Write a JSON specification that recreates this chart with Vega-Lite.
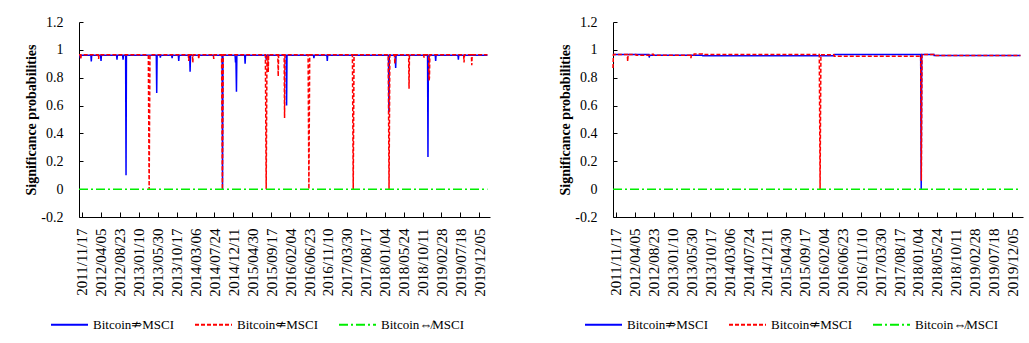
{
  "$schema": "https://vega.github.io/schema/vega-lite/v6.json",
  "background": "white",
  "padding": {"left": 24, "top": 15, "right": 5, "bottom": 0},
  "spacing": 67,
  "config": {
    "font": "'Liberation Serif', 'Times New Roman', 'DejaVu Serif', serif",
    "view": {"stroke": null},
    "axis": {"grid": false, "domainColor": "black", "tickColor": "black", "labelColor": "black", "titleColor": "black", "labelFont": "'Liberation Serif', 'Times New Roman', serif", "titleFont": "'Liberation Serif', 'Times New Roman', serif", "labelFontSize": 14},
    "legend": {"labelFont": "'Liberation Serif', 'DejaVu Serif', 'DejaVu Sans', serif", "labelFontSize": 13, "labelColor": "black"}
  },
  "resolve": {"scale": {"color": "independent", "strokeDash": "independent"}},
  "datasets": {
    "left": [
      {"s": "Bitcoin⇏MSCI", "d": "2011-10-26", "p": 0.962},
      {"s": "Bitcoin⇏MSCI", "d": "2011-11-02", "p": 0.962},
      {"s": "Bitcoin⇏MSCI", "d": "2011-11-05", "p": 0.94},
      {"s": "Bitcoin⇏MSCI", "d": "2011-11-08", "p": 0.962},
      {"s": "Bitcoin⇏MSCI", "d": "2012-01-22", "p": 0.962},
      {"s": "Bitcoin⇏MSCI", "d": "2012-01-25", "p": 0.917},
      {"s": "Bitcoin⇏MSCI", "d": "2012-01-28", "p": 0.962},
      {"s": "Bitcoin⇏MSCI", "d": "2012-04-03", "p": 0.962},
      {"s": "Bitcoin⇏MSCI", "d": "2012-04-06", "p": 0.92},
      {"s": "Bitcoin⇏MSCI", "d": "2012-04-09", "p": 0.962},
      {"s": "Bitcoin⇏MSCI", "d": "2012-07-30", "p": 0.962},
      {"s": "Bitcoin⇏MSCI", "d": "2012-08-02", "p": 0.93},
      {"s": "Bitcoin⇏MSCI", "d": "2012-08-05", "p": 0.962},
      {"s": "Bitcoin⇏MSCI", "d": "2012-09-13", "p": 0.962},
      {"s": "Bitcoin⇏MSCI", "d": "2012-09-16", "p": 0.93},
      {"s": "Bitcoin⇏MSCI", "d": "2012-09-19", "p": 0.962},
      {"s": "Bitcoin⇏MSCI", "d": "2012-10-05", "p": 0.962},
      {"s": "Bitcoin⇏MSCI", "d": "2012-10-08", "p": 0.10},
      {"s": "Bitcoin⇏MSCI", "d": "2012-10-11", "p": 0.962},
      {"s": "Bitcoin⇏MSCI", "d": "2013-05-20", "p": 0.962},
      {"s": "Bitcoin⇏MSCI", "d": "2013-05-23", "p": 0.69},
      {"s": "Bitcoin⇏MSCI", "d": "2013-05-26", "p": 0.962},
      {"s": "Bitcoin⇏MSCI", "d": "2013-06-16", "p": 0.962},
      {"s": "Bitcoin⇏MSCI", "d": "2013-06-19", "p": 0.945},
      {"s": "Bitcoin⇏MSCI", "d": "2013-06-22", "p": 0.962},
      {"s": "Bitcoin⇏MSCI", "d": "2013-09-11", "p": 0.962},
      {"s": "Bitcoin⇏MSCI", "d": "2013-09-14", "p": 0.94},
      {"s": "Bitcoin⇏MSCI", "d": "2013-09-17", "p": 0.962},
      {"s": "Bitcoin⇏MSCI", "d": "2013-10-30", "p": 0.962},
      {"s": "Bitcoin⇏MSCI", "d": "2013-11-02", "p": 0.92},
      {"s": "Bitcoin⇏MSCI", "d": "2013-11-05", "p": 0.962},
      {"s": "Bitcoin⇏MSCI", "d": "2014-01-22", "p": 0.962},
      {"s": "Bitcoin⇏MSCI", "d": "2014-01-25", "p": 0.843},
      {"s": "Bitcoin⇏MSCI", "d": "2014-01-28", "p": 0.962},
      {"s": "Bitcoin⇏MSCI", "d": "2014-09-19", "p": 0.962},
      {"s": "Bitcoin⇏MSCI", "d": "2014-09-22", "p": 0.0},
      {"s": "Bitcoin⇏MSCI", "d": "2014-09-25", "p": 0.962},
      {"s": "Bitcoin⇏MSCI", "d": "2014-12-24", "p": 0.962},
      {"s": "Bitcoin⇏MSCI", "d": "2014-12-27", "p": 0.91},
      {"s": "Bitcoin⇏MSCI", "d": "2014-12-30", "p": 0.95},
      {"s": "Bitcoin⇏MSCI", "d": "2015-01-03", "p": 0.70},
      {"s": "Bitcoin⇏MSCI", "d": "2015-01-06", "p": 0.962},
      {"s": "Bitcoin⇏MSCI", "d": "2015-03-05", "p": 0.962},
      {"s": "Bitcoin⇏MSCI", "d": "2015-03-08", "p": 0.90},
      {"s": "Bitcoin⇏MSCI", "d": "2015-03-11", "p": 0.962},
      {"s": "Bitcoin⇏MSCI", "d": "2015-08-08", "p": 0.962},
      {"s": "Bitcoin⇏MSCI", "d": "2015-08-11", "p": 0.93},
      {"s": "Bitcoin⇏MSCI", "d": "2015-08-14", "p": 0.962},
      {"s": "Bitcoin⇏MSCI", "d": "2016-01-06", "p": 0.962},
      {"s": "Bitcoin⇏MSCI", "d": "2016-01-09", "p": 0.60},
      {"s": "Bitcoin⇏MSCI", "d": "2016-01-12", "p": 0.962},
      {"s": "Bitcoin⇏MSCI", "d": "2016-07-26", "p": 0.962},
      {"s": "Bitcoin⇏MSCI", "d": "2016-07-29", "p": 0.94},
      {"s": "Bitcoin⇏MSCI", "d": "2016-08-01", "p": 0.962},
      {"s": "Bitcoin⇏MSCI", "d": "2016-11-02", "p": 0.962},
      {"s": "Bitcoin⇏MSCI", "d": "2016-11-05", "p": 0.92},
      {"s": "Bitcoin⇏MSCI", "d": "2016-11-08", "p": 0.962},
      {"s": "Bitcoin⇏MSCI", "d": "2018-02-01", "p": 0.962},
      {"s": "Bitcoin⇏MSCI", "d": "2018-02-04", "p": 0.55},
      {"s": "Bitcoin⇏MSCI", "d": "2018-02-07", "p": 0.962},
      {"s": "Bitcoin⇏MSCI", "d": "2018-03-23", "p": 0.962},
      {"s": "Bitcoin⇏MSCI", "d": "2018-03-26", "p": 0.87},
      {"s": "Bitcoin⇏MSCI", "d": "2018-03-29", "p": 0.962},
      {"s": "Bitcoin⇏MSCI", "d": "2018-11-17", "p": 0.962},
      {"s": "Bitcoin⇏MSCI", "d": "2018-11-20", "p": 0.23},
      {"s": "Bitcoin⇏MSCI", "d": "2018-11-23", "p": 0.95},
      {"s": "Bitcoin⇏MSCI", "d": "2018-11-26", "p": 0.90},
      {"s": "Bitcoin⇏MSCI", "d": "2018-11-29", "p": 0.962},
      {"s": "Bitcoin⇏MSCI", "d": "2019-01-13", "p": 0.962},
      {"s": "Bitcoin⇏MSCI", "d": "2019-01-16", "p": 0.92},
      {"s": "Bitcoin⇏MSCI", "d": "2019-01-19", "p": 0.962},
      {"s": "Bitcoin⇏MSCI", "d": "2019-06-30", "p": 0.962},
      {"s": "Bitcoin⇏MSCI", "d": "2019-07-03", "p": 0.93},
      {"s": "Bitcoin⇏MSCI", "d": "2019-07-06", "p": 0.962},
      {"s": "Bitcoin⇏MSCI", "d": "2020-02-03", "p": 0.962},

      {"s": "Bitcoin⇍MSCI", "d": "2011-10-26", "p": 0.964},
      {"s": "Bitcoin⇍MSCI", "d": "2011-11-05", "p": 0.964},
      {"s": "Bitcoin⇍MSCI", "d": "2011-11-08", "p": 0.935},
      {"s": "Bitcoin⇍MSCI", "d": "2011-11-11", "p": 0.964},
      {"s": "Bitcoin⇍MSCI", "d": "2012-03-16", "p": 0.964},
      {"s": "Bitcoin⇍MSCI", "d": "2012-03-19", "p": 0.935},
      {"s": "Bitcoin⇍MSCI", "d": "2012-03-22", "p": 0.964},
      {"s": "Bitcoin⇍MSCI", "d": "2013-03-22", "p": 0.964},
      {"s": "Bitcoin⇍MSCI", "d": "2013-03-28", "p": 0.0},
      {"s": "Bitcoin⇍MSCI", "d": "2013-04-03", "p": 0.964},
      {"s": "Bitcoin⇍MSCI", "d": "2014-01-12", "p": 0.964},
      {"s": "Bitcoin⇍MSCI", "d": "2014-01-15", "p": 0.92},
      {"s": "Bitcoin⇍MSCI", "d": "2014-01-18", "p": 0.964},
      {"s": "Bitcoin⇍MSCI", "d": "2014-02-11", "p": 0.964},
      {"s": "Bitcoin⇍MSCI", "d": "2014-02-14", "p": 0.91},
      {"s": "Bitcoin⇍MSCI", "d": "2014-02-17", "p": 0.964},
      {"s": "Bitcoin⇍MSCI", "d": "2014-03-27", "p": 0.964},
      {"s": "Bitcoin⇍MSCI", "d": "2014-03-30", "p": 0.935},
      {"s": "Bitcoin⇍MSCI", "d": "2014-04-02", "p": 0.964},
      {"s": "Bitcoin⇍MSCI", "d": "2014-07-16", "p": 0.964},
      {"s": "Bitcoin⇍MSCI", "d": "2014-07-19", "p": 0.935},
      {"s": "Bitcoin⇍MSCI", "d": "2014-07-22", "p": 0.964},
      {"s": "Bitcoin⇍MSCI", "d": "2014-09-15", "p": 0.964},
      {"s": "Bitcoin⇍MSCI", "d": "2014-09-21", "p": 0.0},
      {"s": "Bitcoin⇍MSCI", "d": "2014-09-27", "p": 0.964},
      {"s": "Bitcoin⇍MSCI", "d": "2015-08-05", "p": 0.964},
      {"s": "Bitcoin⇍MSCI", "d": "2015-08-11", "p": 0.0},
      {"s": "Bitcoin⇍MSCI", "d": "2015-08-17", "p": 0.964},
      {"s": "Bitcoin⇍MSCI", "d": "2015-08-23", "p": 0.964},
      {"s": "Bitcoin⇍MSCI", "d": "2015-08-26", "p": 0.84},
      {"s": "Bitcoin⇍MSCI", "d": "2015-08-29", "p": 0.964},
      {"s": "Bitcoin⇍MSCI", "d": "2015-11-05", "p": 0.964},
      {"s": "Bitcoin⇍MSCI", "d": "2015-11-08", "p": 0.81},
      {"s": "Bitcoin⇍MSCI", "d": "2015-11-11", "p": 0.964},
      {"s": "Bitcoin⇍MSCI", "d": "2015-12-22", "p": 0.964},
      {"s": "Bitcoin⇍MSCI", "d": "2015-12-25", "p": 0.51},
      {"s": "Bitcoin⇍MSCI", "d": "2015-12-28", "p": 0.964},
      {"s": "Bitcoin⇍MSCI", "d": "2016-06-16", "p": 0.964},
      {"s": "Bitcoin⇍MSCI", "d": "2016-06-22", "p": 0.0},
      {"s": "Bitcoin⇍MSCI", "d": "2016-06-28", "p": 0.964},
      {"s": "Bitcoin⇍MSCI", "d": "2017-05-10", "p": 0.964},
      {"s": "Bitcoin⇍MSCI", "d": "2017-05-16", "p": 0.0},
      {"s": "Bitcoin⇍MSCI", "d": "2017-05-22", "p": 0.964},
      {"s": "Bitcoin⇍MSCI", "d": "2018-01-30", "p": 0.964},
      {"s": "Bitcoin⇍MSCI", "d": "2018-02-05", "p": 0.0},
      {"s": "Bitcoin⇍MSCI", "d": "2018-02-11", "p": 0.964},
      {"s": "Bitcoin⇍MSCI", "d": "2018-03-17", "p": 0.964},
      {"s": "Bitcoin⇍MSCI", "d": "2018-03-20", "p": 0.90},
      {"s": "Bitcoin⇍MSCI", "d": "2018-03-23", "p": 0.964},
      {"s": "Bitcoin⇍MSCI", "d": "2018-06-30", "p": 0.964},
      {"s": "Bitcoin⇍MSCI", "d": "2018-07-03", "p": 0.72},
      {"s": "Bitcoin⇍MSCI", "d": "2018-07-06", "p": 0.964},
      {"s": "Bitcoin⇍MSCI", "d": "2018-10-19", "p": 0.964},
      {"s": "Bitcoin⇍MSCI", "d": "2018-10-22", "p": 0.945},
      {"s": "Bitcoin⇍MSCI", "d": "2018-10-25", "p": 0.964},
      {"s": "Bitcoin⇍MSCI", "d": "2018-11-25", "p": 0.964},
      {"s": "Bitcoin⇍MSCI", "d": "2018-11-28", "p": 0.78},
      {"s": "Bitcoin⇍MSCI", "d": "2018-12-01", "p": 0.80},
      {"s": "Bitcoin⇍MSCI", "d": "2018-12-04", "p": 0.964},
      {"s": "Bitcoin⇍MSCI", "d": "2019-08-11", "p": 0.964},
      {"s": "Bitcoin⇍MSCI", "d": "2019-08-14", "p": 0.91},
      {"s": "Bitcoin⇍MSCI", "d": "2019-08-17", "p": 0.964},
      {"s": "Bitcoin⇍MSCI", "d": "2019-10-07", "p": 0.964},
      {"s": "Bitcoin⇍MSCI", "d": "2019-10-10", "p": 0.89},
      {"s": "Bitcoin⇍MSCI", "d": "2019-10-13", "p": 0.964},
      {"s": "Bitcoin⇍MSCI", "d": "2020-02-03", "p": 0.964},

      {"s": "Bitcoin⇎MSCI", "d": "2011-10-26", "p": 0},
      {"s": "Bitcoin⇎MSCI", "d": "2020-02-03", "p": 0}
    ],
    "right": [
      {"s": "Bitcoin⇏MSCI", "d": "2011-10-26", "p": 0.967},
      {"s": "Bitcoin⇏MSCI", "d": "2012-07-18", "p": 0.967},
      {"s": "Bitcoin⇏MSCI", "d": "2012-07-21", "p": 0.945},
      {"s": "Bitcoin⇏MSCI", "d": "2012-07-24", "p": 0.962},
      {"s": "Bitcoin⇏MSCI", "d": "2013-08-20", "p": 0.962},
      {"s": "Bitcoin⇏MSCI", "d": "2013-08-22", "p": 0.957},
      {"s": "Bitcoin⇏MSCI", "d": "2016-04-21", "p": 0.957},
      {"s": "Bitcoin⇏MSCI", "d": "2016-04-23", "p": 0.967},
      {"s": "Bitcoin⇏MSCI", "d": "2018-01-24", "p": 0.967},
      {"s": "Bitcoin⇏MSCI", "d": "2018-01-28", "p": 0.0},
      {"s": "Bitcoin⇏MSCI", "d": "2018-02-01", "p": 0.967},
      {"s": "Bitcoin⇏MSCI", "d": "2018-05-02", "p": 0.967},
      {"s": "Bitcoin⇏MSCI", "d": "2018-05-04", "p": 0.96},
      {"s": "Bitcoin⇏MSCI", "d": "2020-02-03", "p": 0.96},

      {"s": "Bitcoin⇍MSCI", "d": "2011-10-26", "p": 0.87},
      {"s": "Bitcoin⇍MSCI", "d": "2011-10-29", "p": 0.967},
      {"s": "Bitcoin⇍MSCI", "d": "2012-02-09", "p": 0.967},
      {"s": "Bitcoin⇍MSCI", "d": "2012-02-12", "p": 0.917},
      {"s": "Bitcoin⇍MSCI", "d": "2012-02-15", "p": 0.967},
      {"s": "Bitcoin⇍MSCI", "d": "2012-04-13", "p": 0.967},
      {"s": "Bitcoin⇍MSCI", "d": "2012-04-15", "p": 0.962},
      {"s": "Bitcoin⇍MSCI", "d": "2012-07-30", "p": 0.962},
      {"s": "Bitcoin⇍MSCI", "d": "2012-08-02", "p": 0.969},
      {"s": "Bitcoin⇍MSCI", "d": "2012-08-20", "p": 0.969},
      {"s": "Bitcoin⇍MSCI", "d": "2012-08-22", "p": 0.962},
      {"s": "Bitcoin⇍MSCI", "d": "2013-05-23", "p": 0.962},
      {"s": "Bitcoin⇍MSCI", "d": "2013-05-26", "p": 0.94},
      {"s": "Bitcoin⇍MSCI", "d": "2013-05-29", "p": 0.962},
      {"s": "Bitcoin⇍MSCI", "d": "2013-06-17", "p": 0.962},
      {"s": "Bitcoin⇍MSCI", "d": "2013-06-19", "p": 0.97},
      {"s": "Bitcoin⇍MSCI", "d": "2013-08-20", "p": 0.97},
      {"s": "Bitcoin⇍MSCI", "d": "2013-08-22", "p": 0.967},
      {"s": "Bitcoin⇍MSCI", "d": "2016-01-03", "p": 0.967},
      {"s": "Bitcoin⇍MSCI", "d": "2016-01-09", "p": 0.0},
      {"s": "Bitcoin⇍MSCI", "d": "2016-01-15", "p": 0.965},
      {"s": "Bitcoin⇍MSCI", "d": "2016-04-21", "p": 0.965},
      {"s": "Bitcoin⇍MSCI", "d": "2016-04-23", "p": 0.955},
      {"s": "Bitcoin⇍MSCI", "d": "2018-01-24", "p": 0.955},
      {"s": "Bitcoin⇍MSCI", "d": "2018-01-29", "p": 0.06},
      {"s": "Bitcoin⇍MSCI", "d": "2018-02-03", "p": 0.967},
      {"s": "Bitcoin⇍MSCI", "d": "2018-05-02", "p": 0.967},
      {"s": "Bitcoin⇍MSCI", "d": "2018-05-04", "p": 0.96},
      {"s": "Bitcoin⇍MSCI", "d": "2020-02-03", "p": 0.96},

      {"s": "Bitcoin⇎MSCI", "d": "2011-10-26", "p": 0},
      {"s": "Bitcoin⇎MSCI", "d": "2020-02-03", "p": 0}
    ]
  },
  "hconcat": [
    {
      "width": 411, "height": 195,
      "data": {"name": "left"},
      "mark": {"type": "line", "strokeWidth": 1.5},
      "encoding": {
        "x": {"field": "d", "type": "temporal",
          "scale": {"domain": [{"year": 2011, "month": 10, "date": 26, "utc": true}, {"year": 2020, "month": 2, "date": 22, "utc": true}], "nice": false},
          "axis": {"title": null, "values": [
            {"year": 2011, "month": 11, "date": 17, "utc": true}, {"year": 2012, "month": 4, "date": 5, "utc": true}, {"year": 2012, "month": 8, "date": 23, "utc": true}, {"year": 2013, "month": 1, "date": 10, "utc": true}, {"year": 2013, "month": 5, "date": 30, "utc": true}, {"year": 2013, "month": 10, "date": 17, "utc": true}, {"year": 2014, "month": 3, "date": 6, "utc": true}, {"year": 2014, "month": 7, "date": 24, "utc": true}, {"year": 2014, "month": 12, "date": 11, "utc": true}, {"year": 2015, "month": 4, "date": 30, "utc": true}, {"year": 2015, "month": 9, "date": 17, "utc": true}, {"year": 2016, "month": 2, "date": 4, "utc": true}, {"year": 2016, "month": 6, "date": 23, "utc": true}, {"year": 2016, "month": 11, "date": 10, "utc": true}, {"year": 2017, "month": 3, "date": 30, "utc": true}, {"year": 2017, "month": 8, "date": 17, "utc": true}, {"year": 2018, "month": 1, "date": 4, "utc": true}, {"year": 2018, "month": 5, "date": 24, "utc": true}, {"year": 2018, "month": 10, "date": 11, "utc": true}, {"year": 2019, "month": 2, "date": 28, "utc": true}, {"year": 2019, "month": 7, "date": 18, "utc": true}, {"year": 2019, "month": 12, "date": 5, "utc": true}],
            "labelExpr": "utcFormat(datum.value, '%Y/%m/%d')", "labelAngle": -90, "labelAlign": "right", "labelBaseline": "middle", "labelFontSize": 15,
            "labelFlush": false, "labelOverlap": false, "labelBound": false, "tickSize": -5, "labelPadding": 16}},
        "y": {"field": "p", "type": "quantitative",
          "scale": {"domain": [-0.2, 1.2], "nice": false, "zero": false},
          "axis": {"title": "Significance probabilities", "titleFontWeight": "bold", "titleFontSize": 14, "titlePadding": 2,
            "values": [-0.2, 0, 0.2, 0.4, 0.6, 0.8, 1, 1.2], "labelExpr": "'' + round(datum.value * 10) / 10",
            "tickSize": -4, "labelPadding": 20}},
        "color": {"field": "s", "type": "nominal",
          "scale": {"domain": ["Bitcoin⇏MSCI", "Bitcoin⇍MSCI", "Bitcoin⇎MSCI"], "range": ["#0000ff", "#ff0000", "#00ee00"]},
          "legend": {"title": null, "orient": "none", "legendX": -29, "legendY": 283, "direction": "horizontal", "symbolType": "stroke", "symbolSize": 1369, "symbolStrokeWidth": 2, "columnPadding": 17, "labelFontSize": 13}},
        "strokeDash": {"field": "s", "type": "nominal",
          "scale": {"domain": ["Bitcoin⇏MSCI", "Bitcoin⇍MSCI", "Bitcoin⇎MSCI"], "range": [[1, 0], [4, 2], [9, 3, 2, 3]]},
          "legend": {"title": null, "orient": "none", "legendX": -29, "legendY": 283, "direction": "horizontal", "symbolType": "stroke", "symbolSize": 1369, "symbolStrokeWidth": 2, "columnPadding": 17, "labelFontSize": 13}}
      }
    },
    {
      "width": 410, "height": 195,
      "data": {"name": "right"},
      "mark": {"type": "line", "strokeWidth": 1.5},
      "encoding": {
        "x": {"field": "d", "type": "temporal",
          "scale": {"domain": [{"year": 2011, "month": 10, "date": 26, "utc": true}, {"year": 2020, "month": 2, "date": 22, "utc": true}], "nice": false},
          "axis": {"title": null, "values": [
            {"year": 2011, "month": 11, "date": 17, "utc": true}, {"year": 2012, "month": 4, "date": 5, "utc": true}, {"year": 2012, "month": 8, "date": 23, "utc": true}, {"year": 2013, "month": 1, "date": 10, "utc": true}, {"year": 2013, "month": 5, "date": 30, "utc": true}, {"year": 2013, "month": 10, "date": 17, "utc": true}, {"year": 2014, "month": 3, "date": 6, "utc": true}, {"year": 2014, "month": 7, "date": 24, "utc": true}, {"year": 2014, "month": 12, "date": 11, "utc": true}, {"year": 2015, "month": 4, "date": 30, "utc": true}, {"year": 2015, "month": 9, "date": 17, "utc": true}, {"year": 2016, "month": 2, "date": 4, "utc": true}, {"year": 2016, "month": 6, "date": 23, "utc": true}, {"year": 2016, "month": 11, "date": 10, "utc": true}, {"year": 2017, "month": 3, "date": 30, "utc": true}, {"year": 2017, "month": 8, "date": 17, "utc": true}, {"year": 2018, "month": 1, "date": 4, "utc": true}, {"year": 2018, "month": 5, "date": 24, "utc": true}, {"year": 2018, "month": 10, "date": 11, "utc": true}, {"year": 2019, "month": 2, "date": 28, "utc": true}, {"year": 2019, "month": 7, "date": 18, "utc": true}, {"year": 2019, "month": 12, "date": 5, "utc": true}],
            "labelExpr": "utcFormat(datum.value, '%Y/%m/%d')", "labelAngle": -90, "labelAlign": "right", "labelBaseline": "middle", "labelFontSize": 15,
            "labelFlush": false, "labelOverlap": false, "labelBound": false, "tickSize": -5, "labelPadding": 16}},
        "y": {"field": "p", "type": "quantitative",
          "scale": {"domain": [-0.2, 1.2], "nice": false, "zero": false},
          "axis": {"title": "Significance probabilities", "titleFontWeight": "bold", "titleFontSize": 14, "titlePadding": 2,
            "values": [-0.2, 0, 0.2, 0.4, 0.6, 0.8, 1, 1.2], "labelExpr": "'' + round(datum.value * 10) / 10",
            "tickSize": -4, "labelPadding": 20}},
        "color": {"field": "s", "type": "nominal",
          "scale": {"domain": ["Bitcoin⇏MSCI", "Bitcoin⇍MSCI", "Bitcoin⇎MSCI"], "range": ["#0000ff", "#ff0000", "#00ee00"]},
          "legend": {"title": null, "orient": "none", "legendX": -29, "legendY": 283, "direction": "horizontal", "symbolType": "stroke", "symbolSize": 1369, "symbolStrokeWidth": 2, "columnPadding": 17, "labelFontSize": 13}},
        "strokeDash": {"field": "s", "type": "nominal",
          "scale": {"domain": ["Bitcoin⇏MSCI", "Bitcoin⇍MSCI", "Bitcoin⇎MSCI"], "range": [[1, 0], [4, 2], [9, 3, 2, 3]]},
          "legend": {"title": null, "orient": "none", "legendX": -29, "legendY": 283, "direction": "horizontal", "symbolType": "stroke", "symbolSize": 1369, "symbolStrokeWidth": 2, "columnPadding": 17, "labelFontSize": 13}}
      }
    }
  ]
}
